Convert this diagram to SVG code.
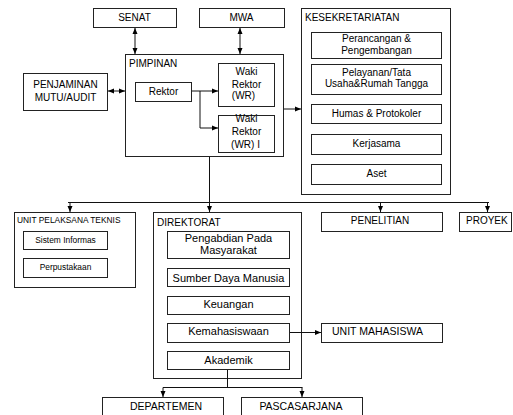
<svg xmlns="http://www.w3.org/2000/svg" width="513" height="415" viewBox="0 0 513 415">
  <style>
    .box { fill: #ffffff; stroke: #222222; stroke-width: 1; }
    .line { fill: none; stroke: #111111; stroke-width: 1; }
    text { font-family: "Liberation Sans", Arial, sans-serif; font-size: 10px; fill: #000000; }
    .c { text-anchor: middle; }
    .sm { font-size: 8.4px; }
    .md { font-size: 11px; }
    .mh { font-size: 10.5px; }
  </style>
  <defs>
    <marker id="arrow" viewBox="0 0 6 6" refX="6" refY="3" markerWidth="6" markerHeight="6" markerUnits="userSpaceOnUse" orient="auto-start-reverse">
      <path d="M0,0.5 L6,3 L0,5.5 z" fill="#000000"/>
    </marker>
  </defs>

  <g id="senat">
    <rect class="box" x="93.5" y="8.5" width="83" height="19"/>
    <text class="c" x="134.5" y="21">SENAT</text>
  </g>
  <g id="mwa">
    <rect class="box" x="199.5" y="8.5" width="85" height="19"/>
    <text class="c" x="241.5" y="21">MWA</text>
  </g>

  <g id="penjaminan">
    <rect class="box" x="23.5" y="73.5" width="84" height="37"/>
    <text class="c" x="65.5" y="88">PENJAMINAN</text>
    <text class="c" x="65.5" y="101">MUTU/AUDIT</text>
  </g>

  <g id="pimpinan">
    <rect class="box" x="125.5" y="54.5" width="158" height="102"/>
    <text x="129" y="67">PIMPINAN</text>
  </g>
  <g id="rektor">
    <rect class="box" x="135.5" y="82.5" width="56" height="19"/>
    <text class="c" x="163.5" y="94.5">Rektor</text>
  </g>
  <g id="wr">
    <rect class="box" x="218.5" y="63.5" width="56" height="43"/>
    <text class="c" x="246.5" y="75">Waki</text>
    <text class="c" x="246.5" y="87.5">Rektor</text>
    <text class="c" x="243.5" y="98.5">(WR)</text>
  </g>
  <g id="wr2">
    <rect class="box" x="218.5" y="115.5" width="56" height="37"/>
    <text class="c" x="246.5" y="122">Waki</text>
    <text class="c" x="246.5" y="135">Rektor</text>
    <text class="c" x="245.5" y="147.5">(WR) I</text>
  </g>

  <g id="kesekretariatan">
    <rect class="box" x="301.5" y="8.5" width="149" height="186"/>
    <text x="305" y="21">KESEKRETARIATAN</text>
  </g>
  <g id="perancangan">
    <rect class="box" x="311.5" y="32.5" width="130" height="26"/>
    <text class="c" x="376.5" y="42">Perancangan &amp;</text>
    <text class="c" x="376.5" y="54">Pengembangan</text>
  </g>
  <g id="pelayanan">
    <rect class="box" x="311.5" y="64.5" width="130" height="30"/>
    <text class="c" x="376.5" y="75.5">Pelayanan/Tata</text>
    <text class="c" x="376.5" y="87">Usaha&amp;Rumah Tangga</text>
  </g>
  <g id="humas">
    <rect class="box" x="311.5" y="104.5" width="130" height="19"/>
    <text class="c" x="376.5" y="116.5">Humas &amp; Protokoler</text>
  </g>
  <g id="kerjasama">
    <rect class="box" x="311.5" y="134.5" width="130" height="20"/>
    <text class="c" x="376.5" y="147">Kerjasama</text>
  </g>
  <g id="aset">
    <rect class="box" x="311.5" y="164.5" width="130" height="20"/>
    <text class="c" x="376.5" y="176.5">Aset</text>
  </g>

  <g id="upt">
    <rect class="box" x="14.5" y="212.5" width="121" height="75"/>
    <text class="sm" x="17" y="222.5">UNIT PELAKSANA TEKNIS</text>
  </g>
  <g id="sisteminformasi">
    <rect class="box" x="23.5" y="231.5" width="84" height="18"/>
    <text class="c sm" x="65.5" y="242.5">Sistem Informas</text>
  </g>
  <g id="perpustakaan">
    <rect class="box" x="23.5" y="258.5" width="84" height="19"/>
    <text class="c sm" x="65.5" y="269.5">Perpustakaan</text>
  </g>

  <g id="direktorat">
    <rect class="box" x="153.5" y="212.5" width="148" height="166"/>
    <text x="157" y="225.5">DIREKTORAT</text>
  </g>
  <g id="pengabdian">
    <rect class="box" x="167.5" y="231.5" width="122" height="27"/>
    <text class="c md" x="228.5" y="241.5">Pengabdian Pada</text>
    <text class="c md" x="228.5" y="253.5">Masyarakat</text>
  </g>
  <g id="sdm">
    <rect class="box" x="167.5" y="268.5" width="122" height="18"/>
    <text class="c md" x="228.5" y="281.5">Sumber Daya Manusia</text>
  </g>
  <g id="keuangan">
    <rect class="box" x="167.5" y="296.5" width="122" height="18"/>
    <text class="c md" x="228.5" y="308">Keuangan</text>
  </g>
  <g id="kemahasiswaan">
    <rect class="box" x="167.5" y="323.5" width="122" height="19"/>
    <text class="c md" x="228.5" y="335">Kemahasiswaan</text>
  </g>
  <g id="akademik">
    <rect class="box" x="167.5" y="351.5" width="122" height="18"/>
    <text class="c md" x="228.5" y="363.5">Akademik</text>
  </g>

  <g id="penelitian">
    <rect class="box" x="321.5" y="212.5" width="121" height="19"/>
    <text class="c" x="380" y="224">PENELITIAN</text>
  </g>
  <g id="proyek">
    <rect class="box" x="459.5" y="212.5" width="52" height="19"/>
    <text x="466" y="224">PROYEK</text>
  </g>
  <g id="unitmahasiswa">
    <rect class="box" x="321.5" y="323.5" width="121" height="19"/>
    <text class="c mh" x="377.5" y="335">UNIT MAHASISWA</text>
  </g>

  <g id="departemen">
    <rect class="box" x="102.5" y="397.5" width="121" height="30"/>
    <text class="c mh" x="166" y="409.5">DEPARTEMEN</text>
  </g>
  <g id="pascasarjana">
    <rect class="box" x="241.5" y="397.5" width="121" height="30"/>
    <text class="c mh" x="301" y="409.5">PASCASARJANA</text>
  </g>

  <!-- connectors, drawn last so lines inside PIMPINAN stay visible -->
  <g id="connectors">
    <line class="line" x1="135" y1="28" x2="135" y2="54" marker-start="url(#arrow)" marker-end="url(#arrow)"/>
    <line class="line" x1="240" y1="28" x2="240" y2="54" marker-start="url(#arrow)" marker-end="url(#arrow)"/>
    <line class="line" x1="108" y1="91" x2="125" y2="91" marker-start="url(#arrow)" marker-end="url(#arrow)"/>
    <path class="line" d="M192,91 H218" marker-end="url(#arrow)"/>
    <path class="line" d="M200,91 V128 H218" marker-end="url(#arrow)"/>
    <path class="line" d="M284,109 H301" marker-end="url(#arrow)"/>
    <path class="line" d="M209.5,157 V202.5"/>
    <path class="line" d="M68,202.5 H489"/>
    <path class="line" d="M70,202.5 V212" marker-end="url(#arrow)"/>
    <path class="line" d="M209.5,202.5 V212" marker-end="url(#arrow)"/>
    <path class="line" d="M380.5,202.5 V212" marker-end="url(#arrow)"/>
    <path class="line" d="M487.5,202.5 V212" marker-end="url(#arrow)"/>
    <path class="line" d="M290,332.5 H321" marker-end="url(#arrow)"/>
    <path class="line" d="M227.5,370 V387.5"/>
    <path class="line" d="M163,387.5 H302.5"/>
    <path class="line" d="M163,387.5 V397" marker-end="url(#arrow)"/>
    <path class="line" d="M302,387.5 V397" marker-end="url(#arrow)"/>
  </g>
</svg>
